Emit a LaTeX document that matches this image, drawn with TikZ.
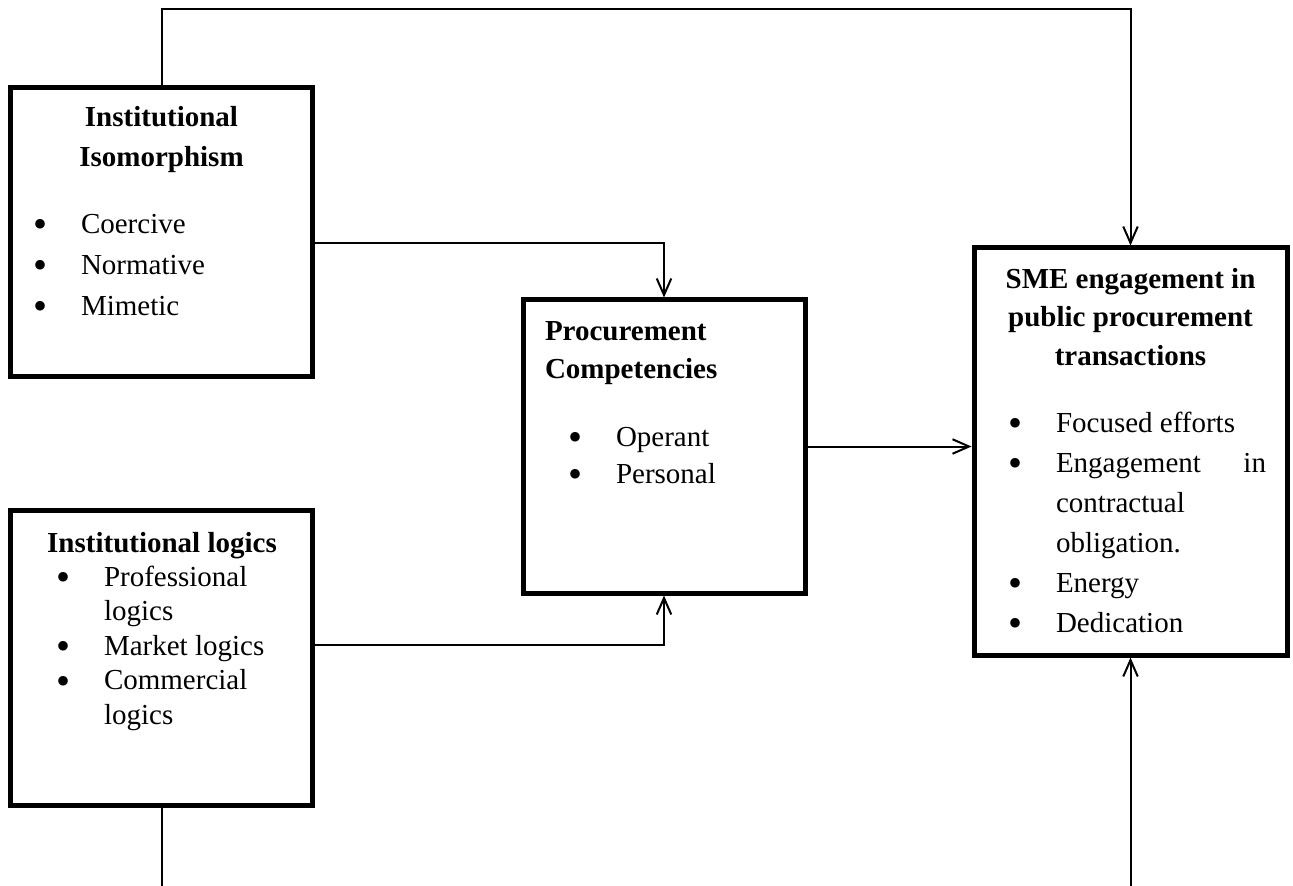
\documentclass[tikz,border=0pt]{standalone}
\usepackage{fontspec}
\setmainfont{Liberation Serif}
\usetikzlibrary{arrows.meta,positioning}

\newcommand{\rowsat}[3]{\fontsize{11.6}{#1}\selectfont\begin{tabular}[t]{@{}#2@{}}#3\end{tabular}}
\newcommand{\bul}{{\fontsize{16}{0}\selectfont\raisebox{-1.8pt}{\textbullet}}}

\begin{document}
\begin{tikzpicture}[
  x=0.4pt, y=-0.4pt,
  >={Straight Barb[length=6.6pt, width=5.8pt]},
  box/.style={draw, line width=2pt, inner sep=0pt},
  txt/.style={inner sep=0pt, outer sep=0pt},
  arrow/.style={->, line width=0.8pt},
  link/.style={line width=0.8pt}
]
  \useasboundingbox (0,0) rectangle (1293,886);

  \node[box, minimum width=120.4pt, minimum height=115.2pt] (iso) at (161.5,232) {};
  \node[box, minimum width=120.4pt, minimum height=118pt] (log) at (161.5,657.5) {};
  \node[box, minimum width=112.8pt, minimum height=117.2pt] (proc) at (664,446.5) {};
  \node[box, minimum width=125.2pt, minimum height=162.8pt] (sme) at (1130.5,451.5) {};

  \node[txt, anchor=base] (isoHead) at (161.5,127)
    {\rowsat{16pt}{c}{\bfseries Institutional\\\bfseries Isomorphism}};
  \node[txt, anchor=base west] (isoList) at (33,233)
    {\rowsat{16.4pt}{p{19.2pt}@{}l}{\bul & Coercive\\\bul & Normative\\\bul & Mimetic}};

  \node[txt, anchor=base] (logHead) at (162,552)
    {\rowsat{14pt}{c}{\bfseries Institutional logics}};
  \node[txt, anchor=base west] (logList) at (56,586)
    {\rowsat{13.8pt}{p{19.2pt}@{}l}{\bul & Professional\\ & logics\\\bul & Market logics\\\bul & Commercial\\ & logics}};

  \node[txt, anchor=base west] (procHead) at (545,340)
    {\rowsat{15.2pt}{l}{\bfseries Procurement\\\bfseries Competencies}};
  \node[txt, anchor=base west] (procList) at (568,446)
    {\rowsat{14.8pt}{p{19.2pt}@{}l}{\bul & Operant\\\bul & Personal}};

  \node[txt, anchor=base] (smeHead) at (1130.5,288)
    {\rowsat{15.4pt}{c}{\bfseries SME engagement in\\\bfseries public procurement\\\bfseries transactions}};
  \node[txt, anchor=base west] (smeList) at (1008,432)
    {\rowsat{16pt}{p{19.2pt}@{}l}{\bul & Focused efforts\\\bul & \makebox[84pt][s]{Engagement\hfill in}\\ & contractual\\ & obligation.\\\bul & Energy\\\bul & Dedication}};

  \coordinate (logOut) at (log.south |- 0,886);
  \coordinate (smeIn) at (sme.south |- 0,886);

  \draw[arrow] (iso.north) -- ++(0,-76) -| (sme.north);
  \draw[arrow] ([yshift=-4.4pt]iso.east) -| (proc.north);
  \draw[arrow] ([yshift=5pt]log.east) -| (proc.south);
  \draw[arrow] (proc.east) -- (proc.east -| sme.west);
  \draw[link] (log.south) -- (logOut);
  \draw[arrow] (smeIn) -- (sme.south);
\end{tikzpicture}
\end{document}
